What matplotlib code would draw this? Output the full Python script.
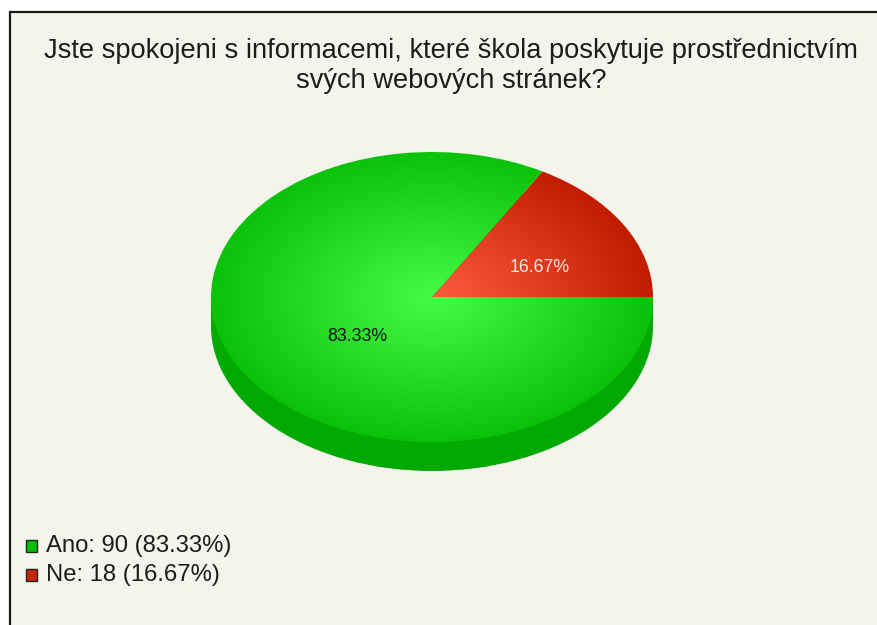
import numpy as np
import matplotlib
matplotlib.use("Agg")
import matplotlib.pyplot as plt
from matplotlib.patches import Wedge, Rectangle, Ellipse
from matplotlib.colors import to_rgb

# ---- data ----
title = "Jste spokojeni s informacemi, které škola poskytuje prostřednictvím\nsvých webových stránek?"
categories = ["Ano", "Ne"]
values = [90, 18]
percent_labels = ["83.33%", "16.67%"]
center_colors = ["#46fb46", "#ff5c3e"]
edge_colors = ["#0bc20b", "#c21c00"]
legend_colors = ["#00c000", "#c82200"]
side_color = "#00a900"

W, H = 878, 625
fig = plt.figure(figsize=(W / 100, H / 100), dpi=100)
fig.patch.set_facecolor("white")
plt.rcParams['font.family'] = ['Liberation Sans', 'DejaVu Sans']

# background axes in pixel coordinates
bg = fig.add_axes([0, 0, 1, 1])
bg.set_xlim(0, W)
bg.set_ylim(H, 0)
bg.axis("off")
bg.add_patch(Rectangle((10, 12), W, H, facecolor="#f4f3ec", edgecolor="#1a1a1a", lw=1.6, zorder=0))

bg.text(451, 66, title, ha="center", va="center", multialignment="center",
        fontsize=19.6, color="#1c1c1c", linespacing=1.2)

total = sum(values)
for i, (c, v) in enumerate(zip(categories, values)):
    y = 546 + 29 * i
    bg.add_patch(Rectangle((26, y - 6), 11.5, 11.5, facecolor=legend_colors[i], edgecolor="#222222", lw=1.0, zorder=2))
    bg.text(46, y, f"{c}: {v} ({100 * v / total:.2f}%)", ha="left", va="center",
            fontsize=17.2, color="#1c1c1c")

# pie axes
cx, cy, rx, ry, depth = 432, 297, 221, 145, 29
left, right = cx - rx, cx + rx
top, bottom = cy - ry, cy + ry + depth
ax = fig.add_axes([left / W, (H - bottom) / H, (right - left) / W, (bottom - top) / H])
d = depth / ry
ax.set_xlim(-1, 1)
ax.set_ylim(-1 - d, 1)
ax.axis("off")

# side of the cylinder
ax.add_patch(Ellipse((0, -d), 2, 2, facecolor=side_color, edgecolor="none", zorder=1))
ax.add_patch(Rectangle((-1, -d), 2, d, facecolor=side_color, edgecolor="none", zorder=1))

# slices (Ne starts at 0 deg going counter-clockwise, Ano after it)
order = [1, 0]
start = 0.0
n = 600
xs = np.linspace(-1, 1, n)
ys = np.linspace(-1, 1, n)
X, Y = np.meshgrid(xs, ys)
R = np.clip(np.sqrt(X ** 2 + Y ** 2), 0, 1)
label_r = {0: 0.40, 1: 0.55}
for i in order:
    ext = 360.0 * values[i] / total
    w = Wedge((0, 0), 1, start, start + ext, facecolor="none", edgecolor="none", zorder=2)
    ax.add_patch(w)
    c0 = np.array(to_rgb(center_colors[i]))
    c1 = np.array(to_rgb(edge_colors[i]))
    img = c0[None, None, :] * (1 - R[..., None]) + c1[None, None, :] * R[..., None]
    im = ax.imshow(img, extent=(-1, 1, -1, 1), origin="lower", interpolation="bilinear",
                   zorder=2, aspect="auto")
    im.set_clip_path(w)
    mid = np.deg2rad(start + ext / 2)
    r = label_r[i]
    ax.text(r * np.cos(mid) + 0.01, r * np.sin(mid) - 0.07, percent_labels[i], ha="center", va="center",
            fontsize=12.8, color="#111111" if i == 0 else "#fbe9e4", zorder=5)
    start += ext

ax.set_xlim(-1, 1)
ax.set_ylim(-1 - d, 1)

fig.savefig("out.png", dpi=100, facecolor=fig.get_facecolor())
